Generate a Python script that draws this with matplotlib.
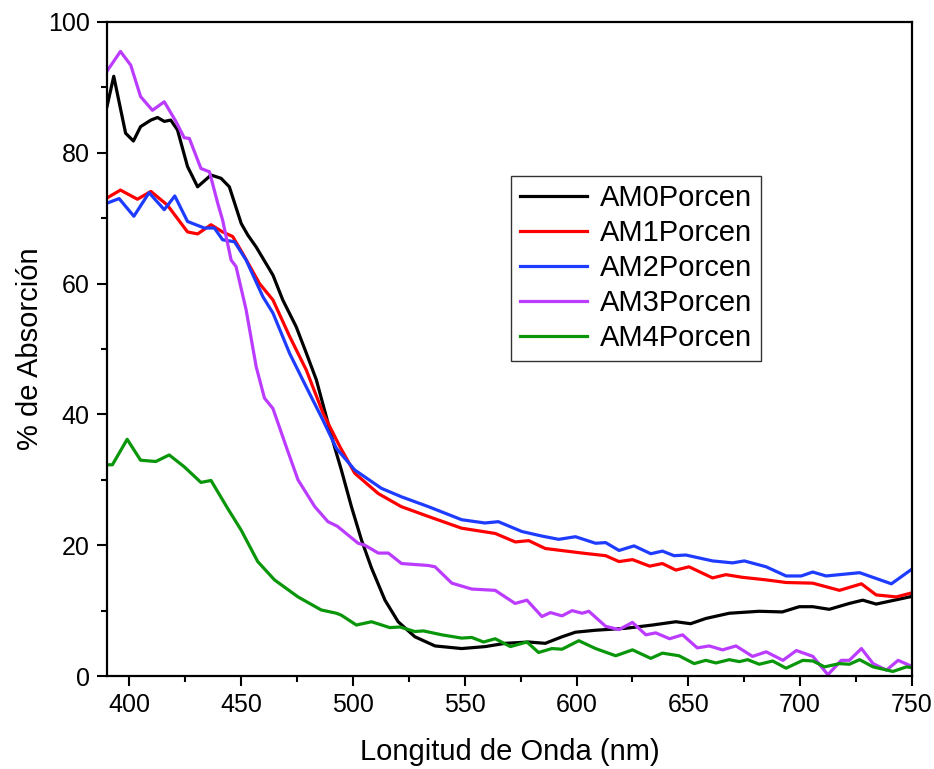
import numpy as np
import matplotlib
matplotlib.use('Agg')
import matplotlib.pyplot as plt
from matplotlib.ticker import MultipleLocator

plt.rcParams['font.family'] = ['Liberation Sans', 'DejaVu Sans']

#wavelength / absorption values
am0_x = [390, 393, 398.3, 401.8, 405, 409.6, 412.6, 415.6, 418.5, 421.5, 426, 430.5, 436.5, 441, 444.7,
         450, 453, 456.7, 464.2, 468.6, 474.6, 479.1, 483.6, 488.1, 491.7, 494.8, 499.3, 503.8, 508.3,
         514.3, 520.2, 527.7, 536.7, 548.6, 559.1, 568.1, 578.6, 586, 593.5, 599.5, 608.5, 622, 634,
         644.4, 651, 657.8, 668.3, 681.7, 692, 699.6, 705.7, 713, 722, 728, 734, 749]
am0_y = [87.1, 91.7, 83.0, 81.8, 84.0, 85.0, 85.4, 84.8, 85.0, 83.5, 77.9, 74.8, 76.6, 76.1, 74.8,
         69.2, 67.4, 65.6, 61.3, 57.5, 53.4, 49.4, 45.3, 39.6, 35.1, 31.5, 25.9, 20.8, 16.5,
         11.6, 8.3, 6.0, 4.6, 4.2, 4.5, 5.0, 5.2, 5.0, 6.0, 6.7, 7.0, 7.3, 7.8,
         8.3, 8.0, 8.8, 9.6, 9.9, 9.8, 10.6, 10.6, 10.2, 11.1, 11.6, 11.0, 12.1]

am1_x = [390, 396, 403.6, 409.6, 417, 426, 430.5, 436.5, 441.7, 446.2, 450.7, 458.2, 464.2, 471.7,
         479.1, 486.6, 494.1, 500.8, 511.3, 521.6, 533.7, 548.6, 563.6, 572.6, 578.6, 586, 602.5,
         613, 619, 625, 632.7, 638.4, 644.4, 650.3, 660.8, 666.8, 674, 684.8, 693.7, 705.6, 717.6,
         727.4, 734, 743, 749.8]
am1_y = [73.1, 74.3, 72.9, 74.1, 72.0, 67.9, 67.6, 69.0, 67.9, 67.2, 64.6, 60.0, 57.5, 51.9,
         46.8, 40.2, 35.1, 31.0, 27.9, 25.9, 24.4, 22.6, 21.8, 20.5, 20.7, 19.5, 18.8,
         18.4, 17.5, 17.8, 16.8, 17.2, 16.2, 16.7, 15.0, 15.5, 15.1, 14.7, 14.3, 14.2, 13.1,
         14.1, 12.4, 12.1, 12.7]

am2_x = [390, 395.4, 402, 408.8, 415.6, 420.3, 426, 433.5, 438, 441.7, 447, 452.2, 459.7, 464.2,
         471.7, 479.1, 486.6, 492.6, 500.8, 512.7, 521.7, 533.7, 548.6, 559, 565, 575.5, 584.5,
         592, 599.5, 608.5, 613, 619, 625.7, 633.2, 638.4, 643.6, 648.9, 660.8, 669.8, 675, 684.8,
         693.7, 700.5, 705.6, 711.6, 726.6, 740.8, 749.8]
am2_y = [72.3, 73.0, 70.3, 73.9, 71.3, 73.4, 69.5, 68.5, 68.5, 66.7, 66.4, 63.6, 58.0, 55.5,
         49.3, 44.2, 39.1, 34.8, 31.5, 28.7, 27.4, 25.9, 23.9, 23.4, 23.6, 22.1, 21.4,
         20.9, 21.3, 20.3, 20.4, 19.2, 19.9, 18.7, 19.1, 18.4, 18.5, 17.6, 17.3, 17.6, 16.7,
         15.3, 15.3, 15.9, 15.3, 15.8, 14.1, 16.3]

am3_x = [390, 396, 400.6, 405, 410.3, 415.6, 420.8, 424.5, 426.8, 432, 435.8, 439.5, 441.7, 445.5,
         447.7, 452.2, 456.7, 460.4, 464.2, 470.1, 475.4, 482.9, 488.8, 493, 502.3, 505.3, 511.3,
         515.8, 521.7, 533.7, 536.7, 544.2, 553.1, 563.6, 572.5, 577.8, 584.5, 588.3, 593.5, 598,
         602.5, 605.5, 613, 619, 625, 631, 635.4, 641.6, 647.4, 654, 659.3, 665.3, 671.3, 678.7,
         684.8, 692.3, 698.3, 705.7, 712.4, 718.4, 722, 727.4, 732.6, 738.6, 743.8, 749.8]
am3_y = [92.5, 95.5, 93.4, 88.6, 86.5, 87.8, 84.8, 82.3, 82.2, 77.6, 77.1, 72.3, 69.7, 63.6,
         62.6, 56.0, 47.3, 42.5, 40.9, 35.1, 30.0, 25.9, 23.6, 22.9, 20.3, 20.0, 18.8,
         18.8, 17.2, 16.9, 16.7, 14.2, 13.3, 13.1, 11.1, 11.6, 9.1, 9.7, 9.2, 10.0,
         9.6, 9.9, 7.6, 7.1, 8.2, 6.3, 6.6, 5.7, 6.3, 4.3, 4.6, 4.0, 4.6, 3.0,
         3.7, 2.4, 3.9, 3.0, 0.2, 2.4, 2.4, 4.2, 1.9, 0.9, 2.4, 1.5]

am4_x = [390, 392.4, 399, 405, 411.8, 417.8, 424.5, 432, 436.5, 444, 450, 457.4, 464.9, 475.4,
         485.8, 492.6, 494.8, 501.5, 508.3, 516.5, 521, 527.7, 531.5, 539.7, 548.6, 553.1, 558.4,
         563.6, 570.4, 577.8, 583, 589, 593.5, 601, 608.5, 617.5, 625, 633.2, 638.4, 645.8, 652.6,
         657.8, 662.3, 668.3, 672.8, 676.5, 681.7, 687.7, 693.7, 701.2, 705.7, 710.9, 717.6, 722,
         726.6, 732.6, 741.5, 747.5, 749.8]
am4_y = [32.3, 32.3, 36.2, 33.0, 32.8, 33.8, 32.0, 29.6, 29.9, 25.6, 22.3, 17.5, 14.7, 12.1,
         10.1, 9.6, 9.3, 7.8, 8.3, 7.4, 7.5, 6.8, 6.9, 6.3, 5.8, 5.9, 5.2,
         5.7, 4.5, 5.2, 3.6, 4.2, 4.1, 5.4, 4.2, 3.1, 4.0, 2.7, 3.5, 3.1, 1.9,
         2.4, 2.0, 2.5, 2.2, 2.5, 1.8, 2.3, 1.2, 2.4, 2.3, 1.4, 1.9, 1.8,
         2.5, 1.4, 0.7, 1.4, 1.3]

labels = ['AM0Porcen', 'AM1Porcen', 'AM2Porcen', 'AM3Porcen', 'AM4Porcen']
colors = ['#000000', '#FF0000', '#1E3CFF', '#BB3CFF', '#0A960A']

fig = plt.figure(figsize=(9.34, 7.69), dpi=100)
ax = fig.add_axes([0.1146, 0.1209, 0.8618, 0.8505])

series = [(am0_x, am0_y), (am1_x, am1_y), (am2_x, am2_y), (am3_x, am3_y), (am4_x, am4_y)]
for (xs, ys), lab, col in zip(series, labels, colors):
    ax.plot(xs, ys, color=col, lw=2.3, label=lab, solid_joinstyle='round')

ax.set_xlim(390, 750)
ax.set_ylim(0, 100)
ax.xaxis.set_major_locator(MultipleLocator(50))
ax.xaxis.set_minor_locator(MultipleLocator(25))
ax.yaxis.set_major_locator(MultipleLocator(20))
ax.yaxis.set_minor_locator(MultipleLocator(10))

#origin style axes: thick spines, ticks pointing out
for s in ax.spines.values():
    s.set_linewidth(1.6)
ax.tick_params(which='major', direction='out', length=7.5, width=1.5, labelsize=18, pad=5)
ax.tick_params(which='minor', direction='out', length=4, width=1.5)
ax.tick_params(which='both', right=False)

ax.set_xlabel('Longitud de Onda (nm)', fontsize=21, labelpad=15)
ax.set_ylabel('% de Absorción', fontsize=21, labelpad=3)

leg = ax.legend(loc='upper left', bbox_to_anchor=(0.502, 0.765), fontsize=21, frameon=True,
                fancybox=False, edgecolor='black', handlelength=2.3, handletextpad=0.45,
                labelspacing=0.24, borderpad=0.3, borderaxespad=0)
leg.get_frame().set_linewidth(1.0)

fig.savefig('out.png', dpi=100)
